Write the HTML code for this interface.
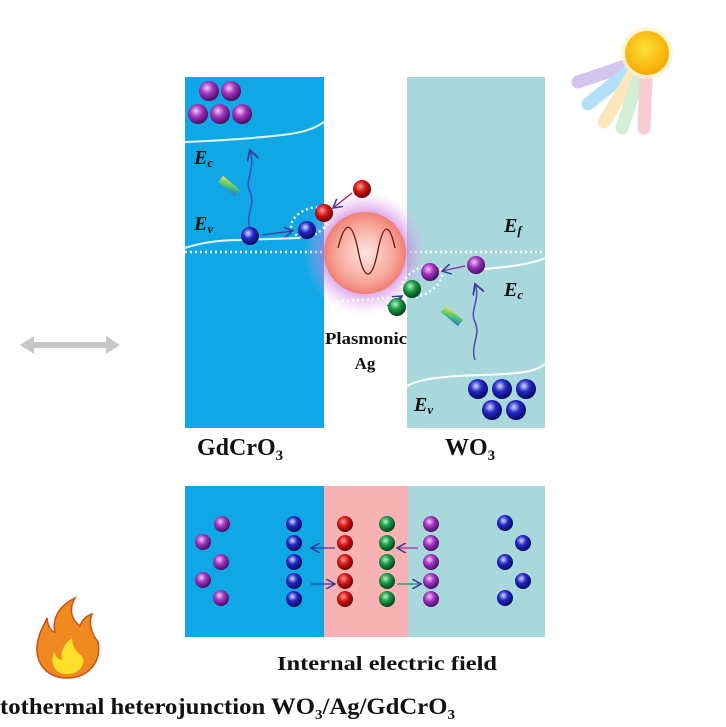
<!DOCTYPE html>
<html><head><style>
html,body{margin:0;padding:0;background:#fff;width:726px;height:727px;overflow:hidden}
svg{display:block}
text{font-family:"Liberation Serif",serif;font-weight:bold;fill:#111}
</style></head><body>
<svg width="726" height="727" viewBox="0 0 726 727" xmlns="http://www.w3.org/2000/svg">
<defs>
<radialGradient id="pu" cx="40%" cy="35%" r="65%"><stop offset="0" stop-color="#f3c8f7"/><stop offset=".45" stop-color="#a236c0"/><stop offset="1" stop-color="#4a0a66"/></radialGradient>
<radialGradient id="bl" cx="40%" cy="35%" r="65%"><stop offset="0" stop-color="#d8dcff"/><stop offset=".45" stop-color="#2328c8"/><stop offset="1" stop-color="#080a5a"/></radialGradient>
<radialGradient id="rd" cx="40%" cy="35%" r="65%"><stop offset="0" stop-color="#ff9c9c"/><stop offset=".45" stop-color="#d81818"/><stop offset="1" stop-color="#6a0000"/></radialGradient>
<radialGradient id="gr" cx="40%" cy="35%" r="65%"><stop offset="0" stop-color="#b6f0c6"/><stop offset=".45" stop-color="#1d9a44"/><stop offset="1" stop-color="#04401a"/></radialGradient>
<radialGradient id="ag" cx="50%" cy="50%" r="50%"><stop offset="0" stop-color="#fde8e2"/><stop offset=".7" stop-color="#f7a79a"/><stop offset="1" stop-color="#ef7f72"/></radialGradient>
<radialGradient id="glow" cx="50%" cy="50%" r="50%"><stop offset=".55" stop-color="#c062d8" stop-opacity=".8"/><stop offset="1" stop-color="#e6b0f0" stop-opacity="0"/></radialGradient>
<radialGradient id="sun" cx="45%" cy="40%" r="60%"><stop offset="0" stop-color="#ffe23a"/><stop offset="1" stop-color="#f6a800"/></radialGradient>
<linearGradient id="rb" x1="0" y1="0" x2="1" y2="1"><stop offset="0" stop-color="#f5e04a"/><stop offset=".5" stop-color="#4ec96a"/><stop offset="1" stop-color="#2a6ae0"/></linearGradient>
<marker id="ar" markerWidth="8" markerHeight="8" refX="7" refY="4" orient="auto"><path d="M0,0 L7,4 L0,8" fill="none" stroke="#3a3a9a" stroke-width="1.2"/></marker>
</defs>

<rect x="185" y="77" width="139" height="351" fill="#0fa7e6"/>
<rect x="407" y="77" width="138" height="351" fill="#a9d8dc"/>
<path d="M185,142 C230,140 260,138 290,134 C310,131 318,126 324,122" stroke="#e6f8ff" stroke-width="2" fill="none"/>
<path d="M185,248 C200,243 220,240 240,240 L300,238" stroke="#e6f8ff" stroke-width="2" fill="none"/>
<path d="M470,270 C500,268 530,265 545,258" stroke="#fff" stroke-width="2" fill="none"/>
<path d="M407,386 C420,378 450,376 480,375 C520,374 535,372 545,364" stroke="#fff" stroke-width="2" fill="none"/>
<line x1="185" y1="252" x2="545" y2="252" stroke="#fff" stroke-width="2.5" stroke-dasharray="2,3"/>

<circle cx="365" cy="253" r="62" fill="url(#glow)"/>
<circle cx="365" cy="253" r="41" fill="url(#ag)"/>
<path d="M338,248 C345,220 352,220 358,250 C364,282 372,282 378,250 C384,220 390,225 395,248" stroke="#6a1010" stroke-width="1.3" fill="none"/>
<ellipse cx="310" cy="222" rx="20" ry="13" fill="none" stroke="#fff" stroke-width="2.5" stroke-dasharray="2,3" transform="rotate(-25 310 222)"/>
<ellipse cx="422" cy="281" rx="22" ry="13" fill="none" stroke="#fff" stroke-width="2.5" stroke-dasharray="2,3" transform="rotate(-30 422 281)"/>
<path d="M333,208 C350,195 380,190 400,198" stroke="#fff" stroke-width="2.5" stroke-dasharray="2,3" fill="none"/>
<path d="M332,302 C350,300 380,300 400,296" stroke="#fff" stroke-width="2.5" stroke-dasharray="2,3" fill="none"/>

<path d="M250,228 C245,215 256,205 250,192 C244,180 256,170 250,150" stroke="#3a4ac0" stroke-width="1.5" fill="none" marker-end="url(#ar)"/>
<path d="M475,360 C470,345 481,335 475,322 C469,310 481,300 475,284" stroke="#4a4ab8" stroke-width="1.5" fill="none" marker-end="url(#ar)"/>
<rect x="218" y="182" width="22" height="8" fill="url(#rb)" transform="rotate(40 229 186)"/>
<rect x="441" y="312" width="22" height="8" fill="url(#rb)" transform="rotate(40 452 316)"/>

<line x1="262" y1="235" x2="293" y2="231" stroke="#3a3a9a" stroke-width="1.3" marker-end="url(#ar)"/>
<line x1="352" y1="193" x2="333" y2="208" stroke="#a02050" stroke-width="1.3" marker-end="url(#ar)"/>
<line x1="465" y1="266" x2="442" y2="271" stroke="#8030a0" stroke-width="1.3" marker-end="url(#ar)"/>
<line x1="387" y1="306" x2="402" y2="296" stroke="#3a3a9a" stroke-width="1.3" marker-end="url(#ar)"/>

<g>
<circle cx="209" cy="91" r="10" fill="url(#pu)"/><circle cx="231" cy="91" r="10" fill="url(#pu)"/>
<circle cx="198" cy="114" r="10" fill="url(#pu)"/><circle cx="220" cy="114" r="10" fill="url(#pu)"/><circle cx="242" cy="114" r="10" fill="url(#pu)"/>
<circle cx="250" cy="236" r="9" fill="url(#bl)"/>
<circle cx="307" cy="230" r="9" fill="url(#bl)"/>
<circle cx="324" cy="213" r="9" fill="url(#rd)"/>
<circle cx="362" cy="189" r="9" fill="url(#rd)"/>
<circle cx="397" cy="307" r="9" fill="url(#gr)"/>
<circle cx="412" cy="289" r="9" fill="url(#gr)"/>
<circle cx="430" cy="272" r="9" fill="url(#pu)"/>
<circle cx="476" cy="265" r="9" fill="url(#pu)"/>
<circle cx="478" cy="389" r="10" fill="url(#bl)"/><circle cx="502" cy="389" r="10" fill="url(#bl)"/><circle cx="526" cy="389" r="10" fill="url(#bl)"/>
<circle cx="492" cy="410" r="10" fill="url(#bl)"/><circle cx="516" cy="410" r="10" fill="url(#bl)"/>
</g>

<g font-size="20">
<text x="194" y="164" font-style="italic">E<tspan font-size="13" dy="3">c</tspan></text>
<text x="194" y="230" font-style="italic">E<tspan font-size="13" dy="3">v</tspan></text>
<text x="504" y="232" font-style="italic">E<tspan font-size="13" dy="3">f</tspan></text>
<text x="504" y="296" font-style="italic">E<tspan font-size="13" dy="3">c</tspan></text>
<text x="414" y="411" font-style="italic">E<tspan font-size="13" dy="3">v</tspan></text>
</g>
<text x="325" y="344" font-size="17" textLength="82" lengthAdjust="spacingAndGlyphs">Plasmonic</text>
<text x="365" y="369" font-size="17" text-anchor="middle">Ag</text>
<text x="197" y="455" font-size="24">GdCrO<tspan font-size="15" dy="5">3</tspan></text>
<text x="445" y="455" font-size="24">WO<tspan font-size="15" dy="5">3</tspan></text>

<rect x="185" y="486" width="139" height="151" fill="#0fa7e6"/>
<rect x="324" y="486" width="84" height="151" fill="#f7b3b4"/>
<rect x="408" y="486" width="137" height="151" fill="#a9d8dc"/>
<g>
<circle cx="222" cy="524" r="8" fill="url(#pu)"/><circle cx="203" cy="542" r="8" fill="url(#pu)"/><circle cx="221" cy="562" r="8" fill="url(#pu)"/><circle cx="203" cy="580" r="8" fill="url(#pu)"/><circle cx="221" cy="598" r="8" fill="url(#pu)"/>
<circle cx="294" cy="524" r="8" fill="url(#bl)"/><circle cx="294" cy="543" r="8" fill="url(#bl)"/><circle cx="294" cy="562" r="8" fill="url(#bl)"/><circle cx="294" cy="581" r="8" fill="url(#bl)"/><circle cx="294" cy="599" r="8" fill="url(#bl)"/>
<circle cx="345" cy="524" r="8" fill="url(#rd)"/><circle cx="345" cy="543" r="8" fill="url(#rd)"/><circle cx="345" cy="562" r="8" fill="url(#rd)"/><circle cx="345" cy="581" r="8" fill="url(#rd)"/><circle cx="345" cy="599" r="8" fill="url(#rd)"/>
<circle cx="387" cy="524" r="8" fill="url(#gr)"/><circle cx="387" cy="543" r="8" fill="url(#gr)"/><circle cx="387" cy="562" r="8" fill="url(#gr)"/><circle cx="387" cy="581" r="8" fill="url(#gr)"/><circle cx="387" cy="599" r="8" fill="url(#gr)"/>
<circle cx="431" cy="524" r="8" fill="url(#pu)"/><circle cx="431" cy="543" r="8" fill="url(#pu)"/><circle cx="431" cy="562" r="8" fill="url(#pu)"/><circle cx="431" cy="581" r="8" fill="url(#pu)"/><circle cx="431" cy="599" r="8" fill="url(#pu)"/>
<circle cx="505" cy="523" r="8" fill="url(#bl)"/><circle cx="523" cy="543" r="8" fill="url(#bl)"/><circle cx="505" cy="562" r="8" fill="url(#bl)"/><circle cx="523" cy="581" r="8" fill="url(#bl)"/><circle cx="505" cy="598" r="8" fill="url(#bl)"/>
</g>
<line x1="335" y1="548" x2="311" y2="548" stroke="#3a3a9a" stroke-width="1.3" marker-end="url(#ar)"/>
<line x1="311" y1="584" x2="335" y2="584" stroke="#3a3a9a" stroke-width="1.3" marker-end="url(#ar)"/>
<line x1="418" y1="548" x2="397" y2="548" stroke="#a0309a" stroke-width="1.3" marker-end="url(#ar)"/>
<line x1="397" y1="584" x2="421" y2="584" stroke="#2a8a6a" stroke-width="1.3" marker-end="url(#ar)"/>
<text x="277" y="670" font-size="20" textLength="220" lengthAdjust="spacingAndGlyphs">Internal electric field</text>
<text x="0" y="714" font-size="23" textLength="455" lengthAdjust="spacingAndGlyphs">tothermal heterojunction WO<tspan font-size="14" dy="5">3</tspan><tspan dy="-5">/Ag/GdCrO</tspan><tspan font-size="14" dy="5">3</tspan></text>

<path d="M20,345 L34,336 L34,342 L106,342 L106,336 L120,345 L106,354 L106,348 L34,348 L34,354 Z" fill="#c8c8c8"/>

<g opacity=".5" stroke-linecap="round" stroke-width="13" fill="none">
<line x1="625" y1="66" x2="578" y2="82" stroke="#a98ae0"/>
<line x1="628" y1="72" x2="588" y2="104" stroke="#6ac0f0"/>
<line x1="632" y1="76" x2="604" y2="122" stroke="#f6d27a"/>
<line x1="638" y1="80" x2="622" y2="128" stroke="#a6e0a8"/>
<line x1="646" y1="80" x2="644" y2="128" stroke="#f39aa6"/>
</g>
<circle cx="647" cy="53" r="26" fill="#fff5c0" opacity=".7"/>
<circle cx="647" cy="53" r="22" fill="url(#sun)"/>

<path d="M67,678 C45,678 33,660 38,640 C40,630 45,624 47,618 C48,628 52,632 55,632 C52,620 58,606 75,598 C68,610 72,620 80,626 C82,620 86,616 92,614 C88,624 92,634 98,642 C102,662 88,678 67,678 Z" fill="#f08a20" stroke="#c9501a" stroke-width="1.5"/>
<path d="M67,674 C54,674 50,662 54,652 C56,658 60,660 62,660 C60,650 66,642 72,638 C72,646 76,652 82,656 C86,664 80,674 67,674 Z" fill="#fde02a"/>
</svg>
</body></html>
